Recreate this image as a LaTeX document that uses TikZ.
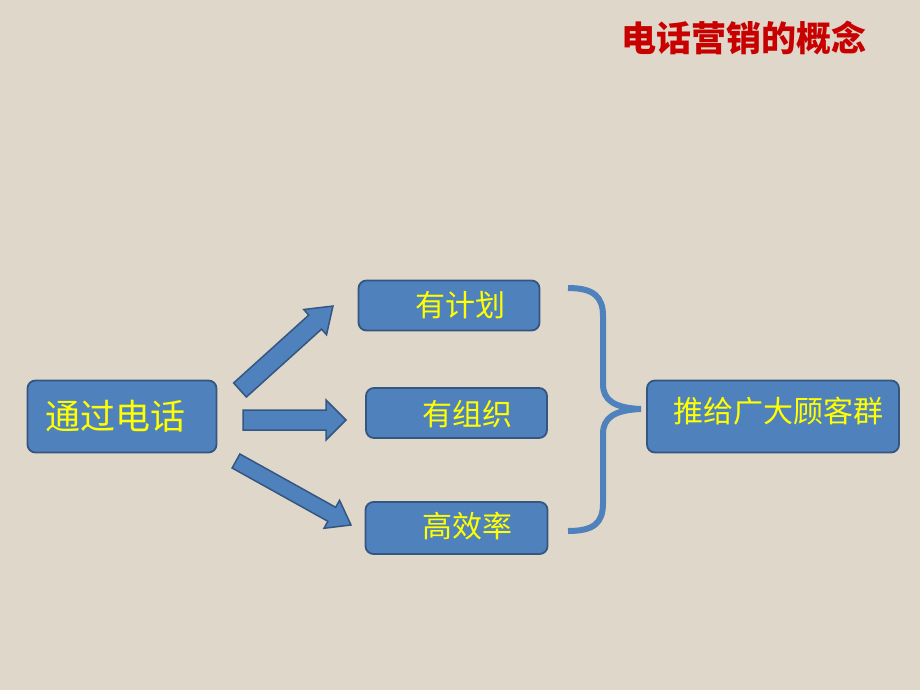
\documentclass[tikz,border=0pt]{standalone}
\usepackage{fontspec}
\newfontfamily\cjk{Noto Sans CJK SC}
\definecolor{bgc}{RGB}{222,215,202}
\definecolor{boxfill}{RGB}{79,129,189}
\definecolor{boxline}{RGB}{52,86,128}
\definecolor{titlered}{RGB}{200,0,0}
\definecolor{txtyellow}{RGB}{255,255,0}
\tikzset{
  box/.style={draw=boxline, line width=1.8pt, fill=boxfill, rounded corners=8pt, inner sep=0pt},
  boxtext/.style={text=txtyellow, font=\cjk\fontsize{30}{34}\selectfont, inner sep=0pt},
  bigtext/.style={text=txtyellow, font=\cjk\fontsize{35}{40}\selectfont, inner sep=0pt},
  barrow/.style={draw=boxline, line width=1.5pt, fill=boxfill, line join=miter},
  bracestyle/.style={draw=boxfill, line width=6pt, line cap=butt}
}
\newcommand\blockarrow[7]{%
  \pgfmathsetmacro\bang{atan2(-(#4-#2),#3-#1)}%
  \pgfmathsetmacro\blen{veclen(#3-#1,#4-#2)}%
  \pgfmathsetmacro\bneck{\blen-#7}%
  \begin{scope}[shift={(#1,#2)},rotate=\bang]
    \draw[barrow] (0pt,#5pt) -- (\bneck pt,#5pt) -- (\bneck pt,#6pt) -- (\blen pt,0pt)
      -- (\bneck pt,-#6pt) -- (\bneck pt,-#5pt) -- (0pt,-#5pt) -- cycle;
  \end{scope}}
\begin{document}
\begin{tikzpicture}[x=1pt,y=-1pt]
\fill[bgc] (0,0) rectangle (920,690);
\useasboundingbox (0,0) rectangle (920,690);

% title
\node[text=titlered, font=\cjk\bfseries\fontsize{35}{40}\selectfont, inner sep=0pt] (title) at (744,38) {电话营销的概念};

% boxes
\node[box, minimum width=189pt, minimum height=72pt] (phone) at (122,416.5) {};
\node[bigtext] (phonet) at (115,416) {通过电话};

\node[box, minimum width=181pt, minimum height=50pt] (plan) at (449,305.5) {};
\node[boxtext] (plant) at (460,305) {有计划};

\node[box, minimum width=181pt, minimum height=50pt] (org) at (456.5,413) {};
\node[boxtext] (orgt) at (467,414) {有组织};

\node[box, minimum width=182pt, minimum height=52pt] (eff) at (456.5,528) {};
\node[boxtext] (efft) at (467,526) {高效率};

\node[box, minimum width=252pt, minimum height=72pt] (cust) at (773,416.5) {};
\node[boxtext] (custt) at (778,411) {推给广大顾客群};

% block arrows
\blockarrow{240}{390}{333}{306}{9.5}{17}{24}
\blockarrow{243}{420}{346}{420}{10}{20}{20}
\blockarrow{236}{461}{351}{525}{8}{16}{22}

% brace
\draw[bracestyle] (568,288) .. controls (594,288) and (603,297) .. (603,316)
  -- (603,384) .. controls (603,400) and (614,408) .. (641,409)
  .. controls (614,410) and (603,418) .. (603,434)
  -- (603,503) .. controls (603,523) and (594,531) .. (568,531);
\end{tikzpicture}
\end{document}
